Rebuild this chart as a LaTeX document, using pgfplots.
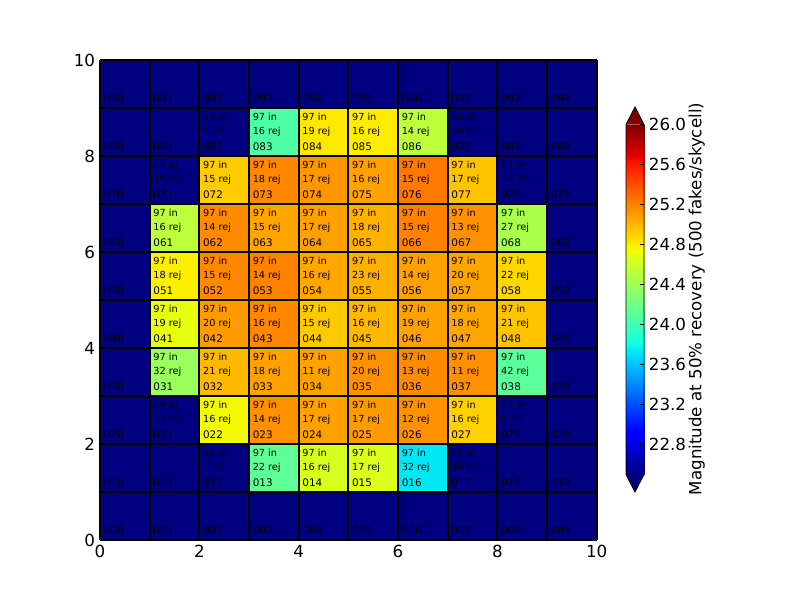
\documentclass[border=0pt]{standalone}
\usepackage{pgfplots}
\pgfplotsset{compat=1.18}
\usepackage{pgfplotstable}
\usepackage{fontspec}
\setmainfont{DejaVu Sans}
\definecolor{jetlo}{rgb}{0,0,0.5}
\definecolor{jethi}{rgb}{0.5,0,0}
\pgfplotsset{
  colormap={mjet}{rgb(0pt)=(0,0,0.5) rgb(22pt)=(0,0,1) rgb(25pt)=(0,0,1)
    rgb(68pt)=(0,0.86,1) rgb(70pt)=(0,0.9,0.968) rgb(75pt)=(0.081,1,0.887)
    rgb(128pt)=(0.935,1,0.032) rgb(130pt)=(0.968,0.963,0) rgb(132pt)=(1,0.926,0)
    rgb(178pt)=(1,0.074,0) rgb(182pt)=(0.909,0,0) rgb(200pt)=(0.5,0,0)},
}
\pgfplotstableread[col sep=comma]{
c,r,v,lab,inn,rej
0,0,22,000,,
1,0,22,001,,
2,0,22,002,,
3,0,22,003,,
4,0,22,004,,
5,0,22,005,,
6,0,22,006,,
7,0,22,007,,
8,0,22,008,,
9,0,22,009,,
0,1,22,010,,
1,1,22,011,,
2,1,22,012,46 in,7 rej
3,1,24.13,013,97 in,22 rej
4,1,24.64,014,97 in,16 rej
5,1,24.66,015,97 in,17 rej
6,1,23.73,016,97 in,32 rej
7,1,22,017,51 in,10 rej
8,1,22,018,,
9,1,22,019,,
0,2,22,020,,
1,2,22,021,49 in,37 rej
2,2,24.76,022,97 in,16 rej
3,2,25.15,023,97 in,14 rej
4,2,25.09,024,97 in,17 rej
5,2,25.11,025,97 in,17 rej
6,2,25.15,026,97 in,12 rej
7,2,24.91,027,97 in,16 rej
8,2,22,028,52 in,8 rej
9,2,22,029,,
0,3,22,030,,
1,3,24.38,031,97 in,32 rej
2,3,25.00,032,97 in,21 rej
3,3,25.09,033,97 in,18 rej
4,3,25.09,034,97 in,11 rej
5,3,25.15,035,97 in,20 rej
6,3,25.17,036,97 in,13 rej
7,3,25.15,037,97 in,11 rej
8,3,24.11,038,97 in,42 rej
9,3,22,039,,
0,4,22,040,,
1,4,24.71,041,97 in,19 rej
2,4,25.11,042,97 in,20 rej
3,4,25.18,043,97 in,16 rej
4,4,24.94,044,97 in,15 rej
5,4,25.00,045,97 in,16 rej
6,4,25.09,046,97 in,19 rej
7,4,25.07,047,97 in,18 rej
8,4,24.96,048,97 in,21 rej
9,4,22,049,,
0,5,22,050,,
1,5,24.80,051,97 in,18 rej
2,5,25.18,052,97 in,15 rej
3,5,25.20,053,97 in,14 rej
4,5,25.07,054,97 in,16 rej
5,5,25.03,055,97 in,23 rej
6,5,25.09,056,97 in,14 rej
7,5,25.07,057,97 in,20 rej
8,5,24.89,058,97 in,22 rej
9,5,22,059,,
0,6,22,060,,
1,6,24.53,061,97 in,16 rej
2,6,25.17,062,97 in,14 rej
3,6,25.07,063,97 in,15 rej
4,6,25.09,064,97 in,17 rej
5,6,25.02,065,97 in,18 rej
6,6,25.20,066,97 in,15 rej
7,6,25.15,067,97 in,13 rej
8,6,24.45,068,97 in,27 rej
9,6,22,069,,
0,7,22,070,,
1,7,22,071,42 in,19 rej
2,7,24.93,072,97 in,15 rej
3,7,25.18,073,97 in,18 rej
4,7,25.13,074,97 in,17 rej
5,7,25.09,075,97 in,16 rej
6,7,25.24,076,97 in,15 rej
7,7,24.96,077,97 in,17 rej
8,7,22,078,57 in,33 rej
9,7,22,079,,
0,8,22,080,,
1,8,22,081,,
2,8,22,082,43 in,5 rej
3,8,24.06,083,97 in,16 rej
4,8,24.83,084,97 in,19 rej
5,8,24.81,085,97 in,16 rej
6,8,24.53,086,97 in,14 rej
7,8,22,087,56 in,30 rej
8,8,22,088,,
9,8,22,089,,
0,9,22,090,,
1,9,22,091,,
2,9,22,092,,
3,9,22,093,,
4,9,22,094,,
5,9,22,095,,
6,9,22,096,,
7,9,22,097,,
8,9,22,098,,
9,9,22,099,,
}\cells
\begin{document}
\begin{tikzpicture}
\useasboundingbox (0,0) rectangle (576pt,432pt);
\begin{axis}[
  at={(72pt,43.2pt)}, anchor=south west, scale only axis,
  width=357.6pt, height=345.6pt,
  xmin=0, xmax=10, ymin=0, ymax=10,
  xtick={0,2,...,10}, ytick={0,2,...,10},
  minor tick num=1, minor tick length=0pt,
  grid=both,
  major grid style={black, line width=1.5pt},
  minor grid style={black, line width=1.5pt},
  axis on top,
  tick align=inside, major tick length=4pt,
  tick style={black, line width=0.5pt},
  ticklabel style={font=\fontsize{12}{14}\selectfont},
  /pgf/number format/assume math mode=true,
  colormap name=mjet, point meta min=22.5, point meta max=26,
]
\addplot[matrix plot*, mesh/cols=10, point meta=explicit]
  table[x expr=\thisrow{c}+0.5, y expr=\thisrow{r}+0.5, meta=v]{\cells};
\addplot[only marks, mark=none, point meta=explicit symbolic, nodes near coords,
  nodes near coords align={anchor=base west},
  every node near coord/.append style={anchor=base west, inner sep=0pt, text=black, font=\fontsize{7}{8}\selectfont}]
  table[x expr=\thisrow{c}+0.07, y expr=\thisrow{r}+0.74, meta=inn]{\cells};
\addplot[only marks, mark=none, point meta=explicit symbolic, nodes near coords,
  nodes near coords align={anchor=base west},
  every node near coord/.append style={anchor=base west, inner sep=0pt, text=black, font=\fontsize{7}{8}\selectfont}]
  table[x expr=\thisrow{c}+0.07, y expr=\thisrow{r}+0.45, meta=rej]{\cells};
\addplot[only marks, mark=none, point meta=explicit symbolic, nodes near coords,
  nodes near coords align={anchor=base west},
  every node near coord/.append style={anchor=base west, inner sep=0pt, text=black, font=\fontsize{7.5}{8.5}\selectfont}]
  table[x expr=\thisrow{c}+0.07, y expr=\thisrow{r}+0.12, meta=lab]{\cells};
\end{axis}
\begin{axis}[
  at={(450.7pt,90.36pt)}, anchor=south west, scale only axis,
  width=13pt, height=252pt,
  xmin=0, xmax=1, ymin=22.5, ymax=26,
  axis line style={draw=none},
  xtick=\empty,
  ytick={22.8,23.2,23.6,24.0,24.4,24.8,25.2,25.6,26.0},
  ytick pos=right, yticklabel pos=right,
  tick align=inside, major tick length=3pt,
  tick style={black, line width=0.5pt},
  axis on top, clip=false,
  ticklabel style={font=\fontsize{12}{14}\selectfont},
  yticklabel style={/pgf/number format/.cd, fixed, fixed zerofill, precision=1},
  /pgf/number format/assume math mode=true,
  colormap name=mjet, point meta min=22.5, point meta max=26,
]
\addplot[surf, shader=interp, mesh/cols=2, point meta=y] coordinates {
(0,22.5) (1,22.5)
(0,22.885) (1,22.885)
(0,22.9375) (1,22.9375)
(0,23.69) (1,23.69)
(0,23.725) (1,23.725)
(0,23.8125) (1,23.8125)
(0,24.74) (1,24.74)
(0,24.775) (1,24.775)
(0,24.81) (1,24.81)
(0,25.615) (1,25.615)
(0,25.685) (1,25.685)
(0,26) (1,26)
};
\fill[jethi] (axis cs:0,26) -- (axis cs:0.5,26.175) -- (axis cs:1,26) -- cycle;
\fill[jetlo] (axis cs:0,22.5) -- (axis cs:0.5,22.325) -- (axis cs:1,22.5) -- cycle;
\draw[black, line width=0.6pt] (axis cs:0,22.5) -- (axis cs:0,26) -- (axis cs:0.5,26.175) -- (axis cs:1,26) -- (axis cs:1,22.5) -- (axis cs:0.5,22.325) -- cycle;
\end{axis}
\node[rotate=90, font=\fontsize{12}{14}\selectfont] at (501.6pt,216.7pt) {Magnitude at 50\% recovery (500 fakes/skycell)};
\end{tikzpicture}
\end{document}
